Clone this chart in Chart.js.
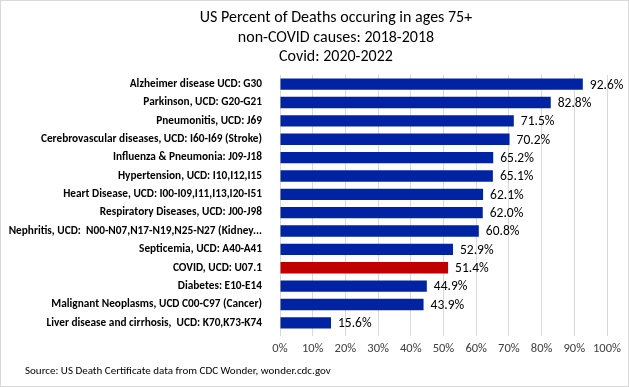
<!DOCTYPE html>
<html>
<head>
<meta charset="utf-8">
<script src="https://cdn.jsdelivr.net/npm/chart.js@4"></script>
<style>
html,body{margin:0;padding:0;background:#fff;}
canvas{display:block;}
</style>
</head>
<body>
<canvas id="c" width="629" height="387"></canvas>
<script>
const categories = [
  "Alzheimer disease UCD: G30",
  "Parkinson, UCD: G20-G21",
  "Pneumonitis, UCD: J69",
  "Cerebrovascular diseases, UCD: I60-I69 (Stroke)",
  "Influenza & Pneumonia: J09-J18",
  "Hypertension, UCD: I10,I12,I15",
  "Heart Disease, UCD: I00-I09,I11,I13,I20-I51",
  "Respiratory Diseases, UCD: J00-J98",
  "Nephritis, UCD:  N00-N07,N17-N19,N25-N27 (Kidney...",
  "Septicemia, UCD: A40-A41",
  "COVID, UCD: U07.1",
  "Diabetes: E10-E14",
  "Malignant Neoplasms, UCD C00-C97 (Cancer)",
  "Liver disease and cirrhosis,  UCD: K70,K73-K74"
];
const percentValues = [92.6, 82.8, 71.5, 70.2, 65.2, 65.1, 62.1, 62.0, 60.8, 52.9, 51.4, 44.9, 43.9, 15.6];
const highlightCategory = "COVID, UCD: U07.1";
const titleLines = ["US Percent of Deaths occuring in ages 75+", "non-COVID causes: 2018-2018", "Covid: 2020-2022"];
const sourceText = "Source: US Death Certificate data from CDC Wonder, wonder.cdc.gov";

const FONT = "Carlito, Calibri, Lato, sans-serif";
const BLUE = "#0023A3";
const RED = "#C00000";

const valueLabels = {
  id: 'valueLabels',
  afterDatasetsDraw(chart) {
    const ctx = chart.ctx;
    const meta = chart.getDatasetMeta(0);
    ctx.save();
    ctx.font = "13.5px " + FONT;
    ctx.fillStyle = "#000";
    ctx.textAlign = "left";
    ctx.textBaseline = "middle";
    meta.data.forEach((bar, i) => {
      ctx.fillText(percentValues[i].toFixed(1) + "%", bar.x + 7, bar.y + 1);
    });
    ctx.restore();
  }
};
const frame = {
  id: 'frame',
  afterDraw(chart) {
    const ctx = chart.ctx;
    ctx.save();
    ctx.fillStyle = "#000";
    ctx.textBaseline = "middle";
    ctx.font = "16px " + FONT;
    ctx.textAlign = "center";
    titleLines.forEach((t, i) => ctx.fillText(t, 336, 18 + i * 19.5));
    ctx.font = "11px " + FONT;
    ctx.textAlign = "left";
    ctx.fillText(sourceText, 25, chart.height - 16);
    ctx.strokeStyle = "#D9D9D9";
    ctx.lineWidth = 1;
    ctx.strokeRect(0.5, 0.5, chart.width - 1, chart.height - 1);
    ctx.restore();
  }
};

new Chart(document.getElementById('c'), {
  type: 'bar',
  data: {
    labels: categories,
    datasets: [{
      data: percentValues,
      backgroundColor: categories.map(c => c === highlightCategory ? RED : BLUE),
      categoryPercentage: 1,
      barPercentage: 0.62
    }]
  },
  options: {
    indexAxis: 'y',
    responsive: false,
    animation: false,
    layout: { padding: { left: 0, right: 22, top: 75, bottom: 0 } },
    plugins: {
      legend: { display: false },
      tooltip: { enabled: false },
      title: { display: false }
    },
    scales: {
      x: {
        min: 0, max: 100,
        ticks: {
          stepSize: 10,
          callback: v => v + "%",
          color: "#404040",
          font: { family: FONT, size: 12.5 },
          padding: 5,
          maxRotation: 0
        },
        grid: { color: "#D9D9D9", tickLength: 4, tickColor: "#D9D9D9" },
        border: { display: false },
        afterFit(scale) { scale.height = 55; }
      },
      y: {
        ticks: {
          color: "#000",
          font: { family: FONT, size: 11.3, weight: 'bold' },
          padding: 10,
          autoSkip: false
        },
        grid: { display: false },
        border: { display: true, color: "#D9D9D9" },
        afterFit(scale) { scale.width = 280; }
      }
    }
  },
  plugins: [valueLabels, frame]
});
</script>
</body>
</html>
